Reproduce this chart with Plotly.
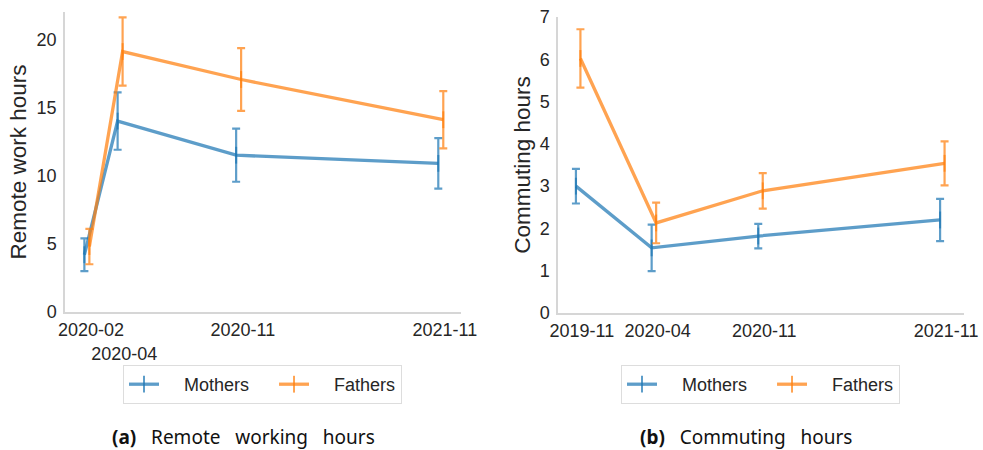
import pandas as pd
import plotly.graph_objects as go

# ---------------- data ----------------
left_dates = ["2020-02-01", "2020-04-01", "2020-11-01", "2021-11-01"]
left_ticks = ["2020-02", "<br>2020-04", "2020-11", "2021-11"]
left_mothers = [4.2, 14.0, 11.5, 10.9]
left_mothers_err = [1.2, 2.1, 1.95, 1.85]
left_fathers = [4.8, 19.1, 17.05, 14.1]
left_fathers_err = [1.3, 2.5, 2.3, 2.1]

right_dates = ["2019-11-01", "2020-04-01", "2020-11-01", "2021-11-01"]
right_ticks = ["2019-11", "2020-04", "2020-11", "2021-11"]
right_mothers = [3.0, 1.54, 1.82, 2.2]
right_mothers_err = [0.41, 0.55, 0.29, 0.5]
right_fathers = [6.02, 2.13, 2.89, 3.54]
right_fathers_err = [0.69, 0.48, 0.42, 0.52]

series_names = ["Mothers", "Fathers"]
captions = ["<b>(a)</b>\u00a0\u00a0 Remote\u00a0\u00a0 working\u00a0\u00a0 hours",
            "<b>(b)</b>\u00a0\u00a0 Commuting\u00a0\u00a0 hours"]
y_titles = ["Remote work hours", "Commuting hours"]

# ---------------- style ----------------
W, H = 983, 450
BLUE = "rgba(31,119,180,0.72)"
ORANGE = "rgba(255,127,14,0.72)"
TXT = "#262626"
AX = "#d6d6d6"
FONT = "Liberation Sans, Arial, sans-serif"
dodge = {"Mothers": -12, "Fathers": -3}
NB = "\u00a0"
label_pad = {"Mothers": (NB * 4, NB * 4), "Fathers": (NB * 4, "")}


def shift(dates, days):
    return list(pd.to_datetime(dates) + pd.Timedelta(days=days))


fig = go.Figure()

panels = [
    dict(dates=left_dates, m=left_mothers, me=left_mothers_err, f=left_fathers, fe=left_fathers_err,
         xa="x", ya="y", legend="legend"),
    dict(dates=right_dates, m=right_mothers, me=right_mothers_err, f=right_fathers, fe=right_fathers_err,
         xa="x2", ya="y2", legend="legend2"),
]

for p in panels:
    for name, vals, errs, col in [(series_names[0], p["m"], p["me"], BLUE),
                                  (series_names[1], p["f"], p["fe"], ORANGE)]:
        pre, post = label_pad[name]
        fig.add_trace(go.Scatter(
            x=shift(p["dates"], dodge[name]), y=vals, name=pre + name + post,
            mode="lines+markers",
            line=dict(color=col, width=3.3),
            marker=dict(symbol="line-ns-open", size=12, color=col, line=dict(color=col, width=2)),
            error_y=dict(type="data", array=errs, visible=True, color=col, thickness=2.2, width=4),
            xaxis=p["xa"], yaxis=p["ya"], legend=p["legend"],
        ))


def px_x(a, b):
    return [a / W, b / W]


def px_y(top, bottom):
    return [1 - bottom / H, 1 - top / H]


axis_common = dict(
    showgrid=False, zeroline=False, showline=True, linecolor=AX, linewidth=1.5,
    ticks="outside", tickcolor="rgba(0,0,0,0)",
    tickfont=dict(family=FONT, size=18, color=TXT), automargin=False,
)

legend_common = dict(orientation="h", xanchor="left", yanchor="top",
                     bordercolor="#dddddd", borderwidth=1, bgcolor="white",
                     font=dict(family=FONT, size=18, color=TXT))

fig.update_layout(
    width=W, height=H, margin=dict(l=0, r=0, t=0, b=0),
    paper_bgcolor="white", plot_bgcolor="white",
    showlegend=True,
    xaxis=dict(domain=px_x(65, 461), type="date", range=["2019-12-16", "2021-11-30"],
               tickvals=left_dates, ticktext=left_ticks, tickangle=0, ticklen=1, anchor="y", **axis_common),
    yaxis=dict(domain=px_y(12, 312), range=[0, 22], tickvals=[0, 5, 10, 15, 20], ticklen=3, anchor="x",
               title=dict(text=y_titles[0], font=dict(family=FONT, size=22.5, color=TXT), standoff=4),
               **axis_common),
    xaxis2=dict(domain=px_x(558, 964), type="date", range=["2019-09-14", "2021-12-07"],
                tickvals=right_dates, ticktext=right_ticks, tickangle=0, ticklen=1, anchor="y2", **axis_common),
    yaxis2=dict(domain=px_y(17, 313), range=[0, 7], tickvals=list(range(0, 8)), ticklen=3, anchor="x2",
                title=dict(text=y_titles[1], font=dict(family=FONT, size=22.5, color=TXT), standoff=3),
                **axis_common),
    legend=dict(x=123 / W, y=1 - 365 / H, **legend_common),
    legend2=dict(x=621 / W, y=1 - 365 / H, **legend_common),
)

for cap, cx in zip(captions, [243.5, 746]):
    fig.add_annotation(text=cap, x=cx / W, y=1 - 437 / H, xref="paper", yref="paper",
                       xanchor="center", yanchor="middle", showarrow=False,
                       font=dict(family="Noto Sans, Open Sans, sans-serif", size=19, color="#111111"))

fig.write_html("out.html", config={"displayModeBar": False},
               post_script="document.body.style.margin='0';document.body.style.overflow='hidden';")
